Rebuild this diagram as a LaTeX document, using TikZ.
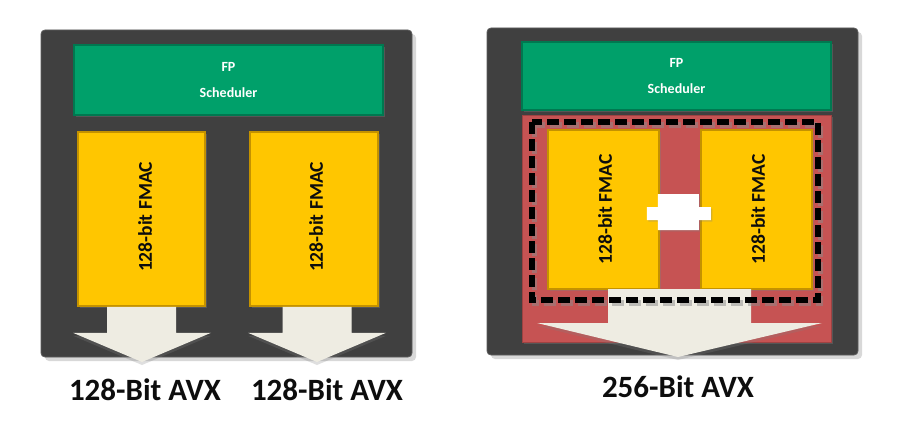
\documentclass[tikz,border=0pt]{standalone}
\usepackage{fontspec}
\setmainfont{Carlito}
\usetikzlibrary{calc,positioning,shadows,fit}
\definecolor{CoreGray}{HTML}{404040}
\definecolor{SchedGreen}{HTML}{00A06A}
\definecolor{FmacGold}{HTML}{FFC600}
\definecolor{FmacEdge}{HTML}{C49200}
\definecolor{FuseRed}{HTML}{C65353}
\definecolor{FlowCream}{HTML}{EEECE2}
\definecolor{LabelInk}{HTML}{0D0D0D}
\tikzset{
  coreBox/.style={
    fill=CoreGray,
    draw=CoreGray!85!white,
    line width=0.8pt,
    rounded corners=4pt,
    drop shadow={shadow xshift=4pt, shadow yshift=-4pt, opacity=0.3}
  },
  schedBox/.style={
    fill=SchedGreen,
    draw=SchedGreen!75!black,
    line width=1.2pt,
    text=white,
    align=center,
    font=\fontsize{14pt}{26pt}\selectfont\bfseries,
    drop shadow={shadow xshift=2pt, shadow yshift=-2pt, opacity=0.35}
  },
  fuseBox/.style={
    fill=FuseRed,
    draw=FuseRed!80!black,
    line width=0.8pt,
    drop shadow={shadow xshift=2pt, shadow yshift=-2pt, opacity=0.35}
  },
  fmacBox/.style={
    fill=FmacGold,
    draw=FmacEdge,
    line width=1.6pt,
    drop shadow={shadow xshift=2pt, shadow yshift=-2pt, opacity=0.35}
  },
  fmacText/.style={
    rotate=90,
    text=LabelInk,
    font=\fontsize{19.5pt}{24pt}\selectfont\bfseries
  },
  avxArrow/.style={
    fill=FlowCream,
    drop shadow={shadow xshift=0pt, shadow yshift=-3pt, opacity=0.25}
  },
  avxLabel/.style={
    text=LabelInk,
    font=\fontsize{31pt}{36pt}\selectfont\bfseries
  },
  fuseFrame/.style={
    draw=black,
    line width=5.5pt,
    dash pattern=on 12pt off 5pt
  },
  linkPlug/.style={
    fill=white,
    drop shadow={shadow xshift=1.5pt, shadow yshift=-1.5pt, opacity=0.3}
  }
}

\begin{document}
\begin{tikzpicture}[x=1pt, y=-1pt]
    \useasboundingbox [fill=white] (0,0) rectangle (920,444);

    % Links: zwei getrennte 128-bit Einheiten
    \node (core_l) [coreBox, minimum width=371pt, minimum height=327pt] at (226.5,193.5) {};
    \node (sched_l) [schedBox, minimum width=309pt, minimum height=70pt] at (228.5,80) {FP\\Scheduler};
    \node (fmac_la) [fmacBox, minimum width=127pt, minimum height=174pt] at (141.5,219) {};
    \node (fmac_lb) [fmacBox, minimum width=128pt, minimum height=174pt] at (314,219) {};
    \node (fmac_la_txt) [fmacText] at (145,217) {128-bit FMAC};
    \node (fmac_lb_txt) [fmacText] at (316,217) {128-bit FMAC};

    % Ausgabepfeile links
    \node (avx_la) [avxLabel] at (145,390) {128-Bit AVX};
    \node (avx_lb) [avxLabel] at (327,390) {128-Bit AVX};
    \coordinate (tip_la) at (142,362);
    \coordinate (tip_lb) at (317,362);
    \fill [avxArrow] ($(fmac_la.south)+(-34.5,0)$) -- ($(fmac_la.south)+(34.5,0)$)
      -- ($(fmac_la.south)+(34.5,26)$) -- ($(fmac_la.south)+(69.5,26)$) -- (tip_la)
      -- ($(fmac_la.south)+(-68.5,26)$) -- ($(fmac_la.south)+(-34.5,26)$) -- cycle;
    \fill [avxArrow] ($(tip_lb|-fmac_lb.south)+(-34.5,0)$) -- ($(tip_lb|-fmac_lb.south)+(34.5,0)$)
      -- ($(tip_lb|-fmac_lb.south)+(34.5,26)$) -- ($(tip_lb|-fmac_lb.south)+(69,26)$) -- (tip_lb)
      -- ($(tip_lb|-fmac_lb.south)+(-69,26)$) -- ($(tip_lb|-fmac_lb.south)+(-34.5,26)$) -- cycle;

    % Rechts: verbundene 256-bit Einheit
    \node (core_r) [coreBox, minimum width=371pt, minimum height=327pt] at (672.5,191.5) {};
    \node (sched_r) [schedBox, minimum width=309pt, minimum height=68pt] at (676.5,76) {FP\\Scheduler};
    \node (fuse_r) [fuseBox, minimum width=309pt, minimum height=227pt] at (676.5,228.5) {};
    \node (fmac_ra) [fmacBox, minimum width=111pt, minimum height=159pt] at (603.5,209.5) {};
    \node (fmac_rb) [fmacBox, minimum width=111pt, minimum height=159pt] at (756.5,209.5) {};

    % Ausgabepfeil rechts
    \node (avx_r) [avxLabel] at (678,387) {256-Bit AVX};
    \coordinate (tip_r) at (678,357);
    \fill [avxArrow] (608,289) -- (751,289) -- (751,323) -- (822,323) -- (tip_r)
      -- (537,323) -- (608,323) -- cycle;
    \node (fmac_ra_txt) [fmacText] at (605,209.5) {128-bit FMAC};
    \node (fmac_rb_txt) [fmacText] at (758,209.5) {128-bit FMAC};

    % Kopplung zwischen den FMACs
    \fill [linkPlug] ($(fmac_ra.east)+(-13,-2.5)$) -- ++(11,0) -- ++(0,-13) -- ++(41,0) -- ++(0,13)
      -- ++(12,0) -- ++(0,13) -- ++(-12,0) -- ++(0,10) -- ++(-41,0) -- ++(0,-10) -- ++(-11,0) -- cycle;

    % gestrichelter Rahmen
    \draw [fuseFrame, draw=black!45, opacity=0.5] (534.5,125) rectangle (820.5,303);
    \draw [fuseFrame] (532,122) rectangle (818,300);
  \end{tikzpicture}
\end{document}
